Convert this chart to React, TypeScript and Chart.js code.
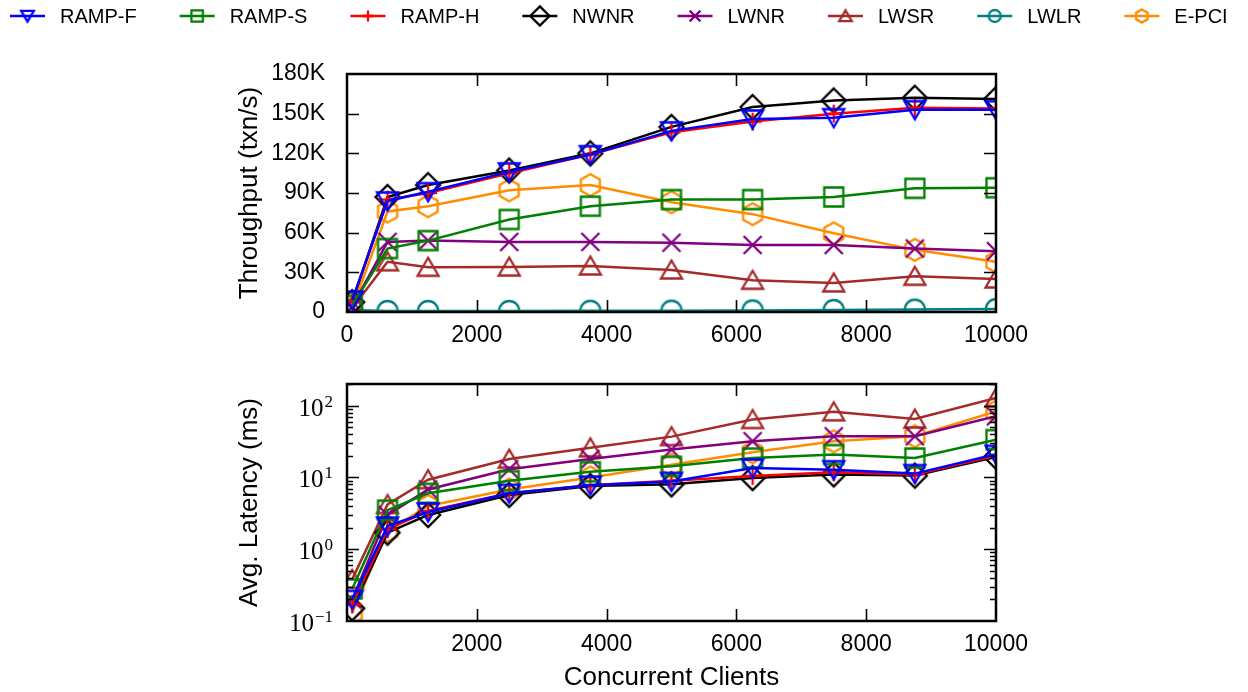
import React, { useEffect, useRef } from 'react';
import { Chart, registerables } from 'chart.js';

Chart.register(...registerables);

const SANS = '"Liberation Sans", Arial, Helvetica, sans-serif';
const SERIF = '"Liberation Serif", "Times New Roman", serif';

// ---------------- data ----------------
const clients = [80, 625, 1250, 2500, 3750, 5000, 6250, 7500, 8750, 10000];

const seriesNames = ['RAMP-F', 'RAMP-S', 'RAMP-H', 'NWNR', 'LWNR', 'LWSR', 'LWLR', 'E-PCI'];
const seriesColors = ['#0000ff', '#008000', '#ff0000', '#000000', '#800080', '#a52a2a', '#008080', '#ff8c00'];
const seriesMarkers = ['triDown', 'square', 'plus', 'diamond', 'cross', 'triUp', 'circle', 'hexagon'];

// throughput (txn/s)
const thrRampF = [9000, 84000, 91000, 106000, 119000, 137000, 146000, 147000, 153000, 153000];
const thrRampS = [5000, 48000, 54000, 70000, 80000, 85000, 85000, 87000, 93500, 94000];
const thrRampH = [8000, 85000, 90000, 105000, 119000, 136000, 144000, 150000, 154500, 154000];
const thrNwnr = [7500, 87000, 96000, 107000, 120000, 140000, 155000, 160000, 162000, 161000];
const thrLwnr = [4000, 53000, 54000, 53000, 53000, 52400, 50700, 50700, 48000, 46000];
const thrLwsr = [3000, 38000, 33800, 34000, 34800, 31800, 24000, 22000, 27000, 25000];
const thrLwlr = [1500, 800, 800, 800, 900, 1000, 1200, 1500, 1800, 2200];
const thrEpci = [3000, 76000, 80000, 92000, 96000, 83000, 74000, 59500, 47000, 38000];

// average latency (ms)
const latRampF = [0.2, 2.1, 3.3, 6.0, 7.8, 8.8, 13.5, 12.8, 11.3, 21];
const latRampS = [0.28, 3.5, 6.0, 9.0, 12, 14.3, 18.6, 20.8, 18.6, 33.6];
const latRampH = [0.17, 1.9, 3.4, 6.0, 7.8, 9.0, 10.5, 11.8, 11.0, 20];
const latNwnr = [0.15, 1.7, 3.0, 5.7, 7.6, 8.0, 9.8, 11, 10.6, 19.3];
const latLwnr = [0.2, 3.0, 6.8, 13, 18, 24.4, 31.9, 37.4, 37.4, 71];
const latLwsr = [0.38, 4.2, 9.3, 18, 25.8, 37, 64, 82, 65, 128];
const latLwlr: (number | null)[] = [null, null, null, null, null, null, null, null, null, null];
const latEpci = [0.13, 1.8, 4.0, 6.8, 10, 15, 22.4, 31.8, 37.4, 83];

const throughputSeries = [thrRampF, thrRampS, thrRampH, thrNwnr, thrLwnr, thrLwsr, thrLwlr, thrEpci];
const latencySeries = [latRampF, latRampS, latRampH, latNwnr, latLwnr, latLwsr, latLwlr, latEpci];

const xTicksTop = [0, 2000, 4000, 6000, 8000, 10000];
const xTicksBottom = [2000, 4000, 6000, 8000, 10000];
const yTicksThroughput = [0, 30000, 60000, 90000, 120000, 150000, 180000];
const yTicksLatency = [0.1, 1, 10, 100];
const yExpLatency = ['\u22121', '0', '1', '2'];

// ---------------- markers ----------------
function makeMarker(kind: string, color: string, s: number): HTMLCanvasElement {
  const c = document.createElement('canvas');
  c.width = 34;
  c.height = 34;
  const g = c.getContext('2d') as CanvasRenderingContext2D;
  g.translate(17, 17);
  g.strokeStyle = color;
  g.lineWidth = 2.3;
  g.lineJoin = 'miter';
  g.beginPath();
  if (kind === 'triDown') {
    g.moveTo(0, 9.5 * s); g.lineTo(-10.5 * s, -8.5 * s); g.lineTo(10.5 * s, -8.5 * s); g.closePath();
  } else if (kind === 'triUp') {
    g.moveTo(0, -9.5 * s); g.lineTo(-10.5 * s, 8.5 * s); g.lineTo(10.5 * s, 8.5 * s); g.closePath();
  } else if (kind === 'square') {
    g.rect(-9.5 * s, -9.5 * s, 19 * s, 19 * s);
  } else if (kind === 'diamond') {
    g.moveTo(0, -12 * s); g.lineTo(12 * s, 0); g.lineTo(0, 12 * s); g.lineTo(-12 * s, 0); g.closePath();
  } else if (kind === 'plus') {
    g.moveTo(-9 * s, 0); g.lineTo(9 * s, 0); g.moveTo(0, -9 * s); g.lineTo(0, 9 * s);
  } else if (kind === 'cross') {
    g.moveTo(-9 * s, -9 * s); g.lineTo(9 * s, 9 * s); g.moveTo(9 * s, -9 * s); g.lineTo(-9 * s, 9 * s);
  } else if (kind === 'circle') {
    g.arc(0, 0, 10 * s, 0, Math.PI * 2);
  } else if (kind === 'hexagon') {
    for (let k = 0; k < 6; k++) {
      const a = -Math.PI / 2 + (k * Math.PI) / 3;
      const px = 11 * s * Math.cos(a);
      const py = 11 * s * Math.sin(a);
      if (k === 0) g.moveTo(px, py); else g.lineTo(px, py);
    }
    g.closePath();
  }
  g.stroke();
  return c;
}

// ---------------- plugins ----------------
const framePlugin = {
  id: 'frameTicks',
  afterDraw(chart: any, _args: any, opts: any) {
    const { ctx, chartArea: a, scales } = chart;
    const xs = scales.x;
    const ys = scales.y;
    ctx.save();
    ctx.strokeStyle = '#000';
    ctx.lineWidth = 1.6;
    ctx.beginPath();
    for (const t of xs.ticks) {
      const px = Math.round(xs.getPixelForValue(t.value)) + 0.5;
      if (px <= a.left + 1 || px >= a.right - 1) continue;
      ctx.moveTo(px, a.bottom); ctx.lineTo(px, a.bottom - 12);
      ctx.moveTo(px, a.top); ctx.lineTo(px, a.top + 12);
    }
    for (const t of ys.ticks) {
      const py = Math.round(ys.getPixelForValue(t.value)) + 0.5;
      if (py <= a.top + 1 || py >= a.bottom - 1) continue;
      ctx.moveTo(a.left, py); ctx.lineTo(a.left + 12, py);
      ctx.moveTo(a.right, py); ctx.lineTo(a.right - 12, py);
    }
    if (opts && opts.log) {
      for (let d = -1; d <= 2; d++) {
        for (let m = 2; m <= 9; m++) {
          const v = m * Math.pow(10, d);
          if (v < ys.min || v > ys.max) continue;
          const py = Math.round(ys.getPixelForValue(v)) + 0.5;
          ctx.moveTo(a.left, py); ctx.lineTo(a.left + 6, py);
          ctx.moveTo(a.right, py); ctx.lineTo(a.right - 6, py);
        }
      }
    }
    ctx.stroke();
    ctx.lineWidth = 2.5;
    ctx.strokeRect(a.left, a.top, a.right - a.left, a.bottom - a.top);

    if (opts && opts.log) {
      ctx.fillStyle = '#000';
      ctx.textBaseline = 'alphabetic';
      ctx.textAlign = 'left';
      yTicksLatency.forEach((v, i) => {
        const py = ys.getPixelForValue(v);
        ctx.font = `17px ${SERIF}`;
        const exp = yExpLatency[i];
        const we = ctx.measureText(exp).width;
        ctx.font = `25px ${SERIF}`;
        const wb = ctx.measureText('10').width;
        const right = a.left - 14;
        ctx.fillText('10', right - we - wb - 1, py + 10);
        ctx.font = `17px ${SERIF}`;
        ctx.fillText(exp, right - we, py + 1);
      });
    }
    ctx.restore();
  },
};

const legendPlugin = {
  id: 'customLegend',
  afterDraw(chart: any) {
    const { ctx } = chart;
    ctx.save();
    ctx.font = `20px ${SANS}`;
    ctx.textBaseline = 'middle';
    ctx.textAlign = 'left';
    let x = 10;
    const y = 16;
    seriesNames.forEach((name, i) => {
      ctx.strokeStyle = seriesColors[i];
      ctx.lineWidth = 2.5;
      ctx.beginPath();
      ctx.moveTo(x, y);
      ctx.lineTo(x + 35, y);
      ctx.stroke();
      const m = makeMarker(seriesMarkers[i], seriesColors[i], seriesMarkers[i] === 'diamond' ? 0.8 : 0.6);
      ctx.drawImage(m, x + 17.5 - m.width / 2, y - m.height / 2);
      ctx.fillStyle = '#000';
      ctx.fillText(name, x + 50, y + 1);
      x += 50 + ctx.measureText(name).width + 43;
    });
    ctx.restore();
  },
};

function buildDatasets(values: (number | null)[][]) {
  return seriesNames.map((name, i) => ({
    label: name,
    data: clients.map((c, j) => ({ x: c, y: values[i][j] })),
    borderColor: seriesColors[i],
    backgroundColor: seriesColors[i],
    borderWidth: 2.5,
    tension: 0,
    fill: false,
    spanGaps: false,
    clip: 0,
    pointRadius: 10,
    pointHoverRadius: 10,
    pointStyle: makeMarker(seriesMarkers[i], seriesColors[i], 1),
  }));
}

const tickFont = { family: SANS, size: 23 };
const titleFont = { family: SANS, size: 26, lineHeight: 1 };
const plainLabel = (v: any) => String(v);

export default function App() {
  const topRef = useRef<HTMLCanvasElement | null>(null);
  const botRef = useRef<HTMLCanvasElement | null>(null);

  useEffect(() => {
    const top = new Chart(topRef.current as HTMLCanvasElement, {
      type: 'line',
      data: { datasets: buildDatasets(throughputSeries) as any },
      plugins: [framePlugin, legendPlugin],
      options: {
        animation: false,
        responsive: false,
        events: [],
        layout: { padding: { left: 0, right: 252, top: 74, bottom: 0 } },
        plugins: {
          legend: { display: false },
          tooltip: { enabled: false },
          frameTicks: { log: false },
        } as any,
        scales: {
          x: {
            type: 'linear',
            min: 0,
            max: 10000,
            grid: { display: false },
            border: { display: false },
            afterBuildTicks: (s: any) => { s.ticks = xTicksTop.map((v) => ({ value: v })); },
            afterFit: (s: any) => { s.height = 38; },
            ticks: { font: tickFont, color: '#000', padding: 2, maxRotation: 0, autoSkip: false, callback: plainLabel },
          },
          y: {
            type: 'linear',
            min: 0,
            max: 180000,
            grid: { display: false },
            border: { display: false },
            afterBuildTicks: (s: any) => { s.ticks = yTicksThroughput.map((v) => ({ value: v })); },
            afterFit: (s: any) => { s.width = 347; },
            ticks: {
              font: tickFont,
              color: '#000',
              padding: 14,
              callback: (v: any) => (v === 0 ? '0' : `${v / 1000}K`),
            },
            title: {
              display: true,
              text: 'Throughput (txn/s)',
              font: titleFont,
              color: '#000',
              padding: { top: 237, bottom: 0 },
            },
          },
        } as any,
      },
    });

    const bot = new Chart(botRef.current as HTMLCanvasElement, {
      type: 'line',
      data: { datasets: buildDatasets(latencySeries) as any },
      plugins: [framePlugin],
      options: {
        animation: false,
        responsive: false,
        events: [],
        layout: { padding: { left: 0, right: 252, top: 34, bottom: 0 } },
        plugins: {
          legend: { display: false },
          tooltip: { enabled: false },
          frameTicks: { log: true },
        } as any,
        scales: {
          x: {
            type: 'linear',
            min: 0,
            max: 10000,
            grid: { display: false },
            border: { display: false },
            afterBuildTicks: (s: any) => { s.ticks = xTicksBottom.map((v) => ({ value: v })); },
            afterFit: (s: any) => { s.height = 71; },
            ticks: { font: tickFont, color: '#000', padding: 2, maxRotation: 0, autoSkip: false, callback: plainLabel },
            title: {
              display: true,
              text: 'Concurrent Clients',
              font: titleFont,
              color: '#000',
              padding: { top: 0, bottom: 1 },
            },
          },
          y: {
            type: 'logarithmic',
            min: 0.1,
            max: 200,
            grid: { display: false },
            border: { display: false },
            afterBuildTicks: (s: any) => { s.ticks = yTicksLatency.map((v) => ({ value: v })); },
            afterFit: (s: any) => { s.width = 347; },
            ticks: { display: false },
            title: {
              display: true,
              text: 'Avg. Latency (ms)',
              font: titleFont,
              color: '#000',
              padding: { top: 237, bottom: 0 },
            },
          },
        } as any,
      },
    });

    return () => {
      top.destroy();
      bot.destroy();
    };
  }, []);

  return (
    <div style={{ position: 'fixed', left: 0, top: 0, width: 1248, height: 692, background: '#fff' }}>
      <canvas
        ref={topRef}
        width={1248}
        height={350}
        style={{ position: 'absolute', left: 0, top: 0, width: 1248, height: 350 }}
      />
      <canvas
        ref={botRef}
        width={1248}
        height={342}
        style={{ position: 'absolute', left: 0, top: 350, width: 1248, height: 342 }}
      />
    </div>
  );
}
